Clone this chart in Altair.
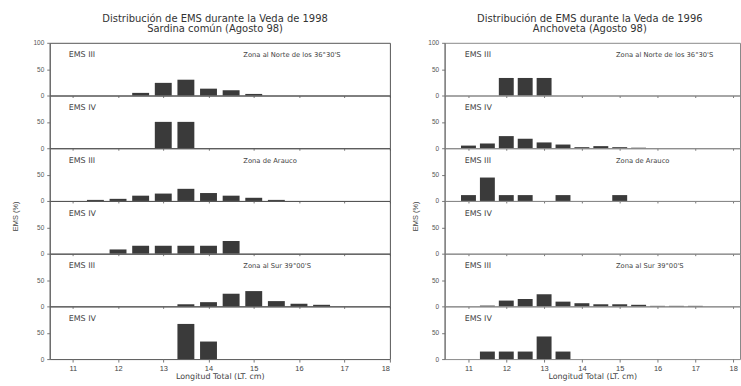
import altair as alt
import pandas as pd

FONT = "Liberation Sans"
WIDE = "DejaVu Sans"
BAR = "#3a3a3a"
TXT = "#444444"

# ---------------- data ----------------
title_left = ["Distribución de EMS durante la Veda de 1998", "Sardina común (Agosto 98)"]
title_right = ["Distribución de EMS durante la Veda de 1996", "Anchoveta (Agosto 98)"]
x_title = "Longitud Total (LT. cm)"
y_title = "EMS (%)"
x_ticks = [11, 12, 13, 14, 15, 16, 17, 18]

row_labels = ["EMS III", "EMS IV", "EMS III", "EMS IV", "EMS III", "EMS IV"]
zones = ["Zona al Norte de los 36°30'S", "", "Zona de Arauco", "", "Zona al Sur 39°00'S", ""]

# Sardina común
s_len = [
    [12.5, 13, 13.5, 14, 14.5, 15],
    [13, 13.5],
    [11.5, 12, 12.5, 13, 13.5, 14, 14.5, 15, 15.5],
    [12, 12.5, 13, 13.5, 14, 14.5],
    [13.5, 14, 14.5, 15, 15.5, 16, 16.5],
    [13.5, 14],
]
s_val = [
    [5, 24, 30, 13, 10, 3],
    [50, 50],
    [2, 4, 10, 14, 23, 15, 10, 6, 2],
    [8, 15, 15, 15, 15, 24],
    [4, 8, 24, 29, 10, 5, 3],
    [66.7, 33.3],
]

# Anchoveta
a_len = [
    [12, 12.5, 13],
    [11, 11.5, 12, 12.5, 13, 13.5, 14, 14.5, 15, 15.5],
    [11, 11.5, 12, 12.5, 13.5, 15],
    [],
    [11.5, 12, 12.5, 13, 13.5, 14, 14.5, 15, 15.5, 16, 16.5, 17],
    [11.5, 12, 12.5, 13, 13.5],
]
a_val = [
    [33.3, 33.3, 33.3],
    [5, 9, 23, 18, 11, 7, 2, 4, 2, 1],
    [11.1, 44.4, 11.1, 11.1, 11.1, 11.1],
    [],
    [1.5, 11, 14, 23, 9, 6, 4, 4, 3, 1, 1, 1],
    [14.3, 14.3, 14.3, 42.9, 14.3],
]


def row_chart(i, lengths, values, xdom, width, bar_size, label_x, zone_x, stroke, ytitle_x):
    top = i == 0
    bottom = i == 5
    xs = alt.Scale(domain=xdom, nice=False, zero=False)
    ys = alt.Scale(domain=[0, 100], nice=False)
    xaxis = alt.Axis(
        values=x_ticks, labels=bottom, domain=False, grid=False,
        tickSize=3 if bottom else 2, tickColor="#777",
        labelFont=FONT, labelFontSize=7.5, labelColor=TXT, labelPadding=2,
        title=x_title if bottom else None,
        titleFont=WIDE, titleFontSize=8, titleFontWeight="normal", titleColor=TXT, titlePadding=1,
    )
    yargs = dict(
        values=[0, 50, 100] if top else [0, 50], domain=True, domainColor="#666",
        grid=False, tickSize=3, tickColor="#777",
        labelFont=FONT, labelFontSize=6.5, labelColor="#555", labelPadding=3,
    )
    if i == 3:
        yargs.update(title=y_title, titleFont=FONT, titleFontSize=7.5, titleFontWeight="normal",
                     titleColor=TXT, titleAngle=-90, titleX=ytitle_x, titleY=15,
                     titleAlign="center", titleBaseline="middle")
    else:
        yargs.update(title=None)
    yaxis = alt.Axis(**yargs)

    df = pd.DataFrame({"LT": pd.Series(lengths, dtype=float), "EMS": pd.Series(values, dtype=float)})
    bars = alt.Chart(df).mark_bar(size=bar_size, color=BAR).encode(
        x=alt.X("LT:Q", scale=xs, axis=xaxis),
        y=alt.Y("EMS:Q", scale=ys, axis=yaxis),
    )
    lab = alt.Chart(pd.DataFrame({"t": [row_labels[i]]})).mark_text(
        align="left", baseline="middle", font=WIDE, fontSize=8, color=TXT
    ).encode(
        x=alt.XDatum(label_x, scale=xs, axis=xaxis),
        y=alt.YDatum(76, scale=ys, axis=yaxis),
        text="t:N",
    )
    layers = [bars, lab]
    if zones[i]:
        zl = alt.Chart(pd.DataFrame({"t": [zones[i]]})).mark_text(
            align="left", baseline="middle", font=WIDE, fontSize=6.8, color=TXT
        ).encode(
            x=alt.XDatum(zone_x, scale=xs, axis=xaxis),
            y=alt.YDatum(76, scale=ys, axis=yaxis),
            text="t:N",
        )
        layers.append(zl)
    return alt.layer(*layers).properties(
        width=width, height=53,
        view=alt.ViewBackground(stroke=stroke, strokeWidth=1),
    )


left_rows = [row_chart(i, s_len[i], s_val[i], [10.6, 17.9], 342, 17, 10.91, 14.77, "#555", -34)
             for i in range(6)]
right_rows = [row_chart(i, a_len[i], a_val[i], [10.5, 18.05], 297, 15, 10.9, 14.9, "#888", -29)
              for i in range(6)]

def ttl(lines, dx):
    return alt.TitleParams(text=lines, font=WIDE, fontSize=10, fontWeight="normal",
                           color="#333", anchor="middle", lineHeight=10.5, offset=5, dx=dx)

left = alt.vconcat(*left_rows, spacing=0, bounds="flush", title=ttl(title_left, 14))
right = alt.vconcat(*right_rows, spacing=0, bounds="flush", title=ttl(title_right, 14))

chart = alt.hconcat(left, right, spacing=20).properties(
    padding={"left": 11, "top": 13, "right": 0, "bottom": 0},
    background="white",
)

chart.save("out.html", embed_options={"renderer": "svg", "actions": False})
